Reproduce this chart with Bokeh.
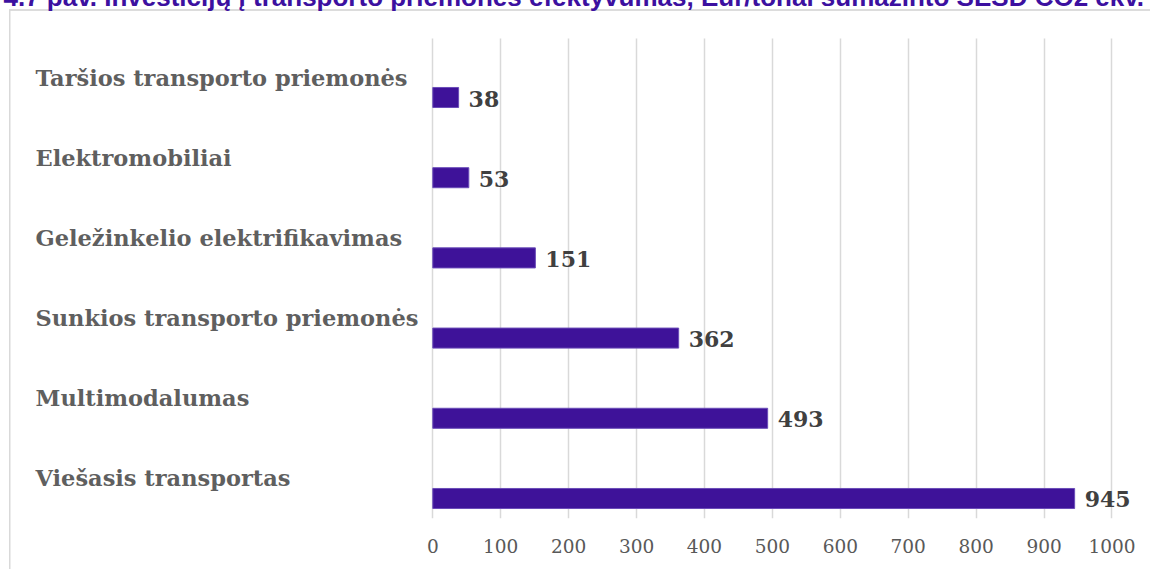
from bokeh.plotting import figure
from bokeh.models import ColumnDataSource, Range1d, FixedTicker, Label
from bokeh.core.properties import value
from bokeh.embed import file_html
from bokeh.resources import INLINE

# ---- data ----
categories = [
    "Taršios transporto priemonės",
    "Elektromobiliai",
    "Geležinkelio elektrifikavimas",
    "Sunkios transporto priemonės",
    "Multimodalumas",
    "Viešasis transportas",
]
values = [38, 53, 151, 362, 493, 945]
tick_values = [0, 100, 200, 300, 400, 500, 600, 700, 800, 900, 1000]
title_text = "4.7 pav. Investicijų į transporto priemones efektyvumas, Eur/tonai sumažinto ŠESD CO2 ekv."

pos = list(range(len(categories)))
src = ColumnDataSource(dict(
    pos=pos,
    cat=categories,
    val=values,
    lbl=[str(v) for v in values],
))

# layout constants
GRID_TOP, GRID_BOTTOM = -0.7357, 5.2494

W, H = 1150, 585
p = figure(
    width=W, height=H,
    output_backend="svg", toolbar_location=None,
    x_range=Range1d(-636.5, 1056.7),
    y_range=Range1d(GRID_BOTTOM, -1.409),
    y_axis_location=None,
    min_border_left=0, min_border_right=0,
    min_border_top=0, min_border_bottom=51,
    outline_line_color=None,
    background_fill_color=None, border_fill_color=None,
)
# chart box (light grey frame, as in the source document)
p.styles = {
    "margin-left": "0px",
    "margin-top": "-16px",
    "background": ("linear-gradient(#d9d9d9,#d9d9d9) 9px 26px / 1.5px 700px no-repeat, "
                   "linear-gradient(#dcdcdc,#dcdcdc) 9px 25px / 1300px 2px no-repeat, "
                   "white"),
}

# vertical grid lines limited to the plot area
g = p.xgrid[0]
if "cross_bounds" in g.properties():
    g.ticker = FixedTicker(ticks=tick_values)
    g.cross_bounds = (GRID_TOP, GRID_BOTTOM)
    g.grid_line_color = "#d9d9d9"
    g.grid_line_width = 1.5
else:
    g.grid_line_color = None
    p.segment(x0=tick_values, x1=tick_values,
              y0=[GRID_TOP] * len(tick_values), y1=[GRID_BOTTOM] * len(tick_values),
              line_color="#d9d9d9", line_width=1.5, level="underlay")
p.ygrid.grid_line_color = None

# bars
p.hbar(y="pos", left=0, right="val", height=0.25, source=src,
       fill_color="#3e1299", line_color="#6a4cb8", line_width=1)

# category labels above bars
p.text(x=-585, y="pos", text="cat", source=src, y_offset=-20,
       text_font=value("DejaVu Serif"), text_font_style="bold", text_font_size="22.5px",
       text_color="#5f5f5f", text_baseline="alphabetic", text_align="left")

# value labels
p.text(x="val", y="pos", text="lbl", source=src, x_offset=10, y_offset=1,
       text_font=value("DejaVu Serif"), text_font_style="bold", text_font_size="22px",
       text_color="#404040", text_baseline="middle", text_align="left")

# x axis
p.xaxis.ticker = FixedTicker(ticks=tick_values)
p.xaxis.axis_line_color = None
p.xaxis.major_tick_line_color = None
p.xaxis.minor_tick_line_color = None
p.xaxis.major_label_standoff = 14
p.xaxis.major_label_text_font = "DejaVu Serif"
p.xaxis.major_label_text_font_size = "18.5px"
p.xaxis.major_label_text_color = "#595959"

# title (partly cut off at the top, as in the source)
title = Label(x=3, y=12.5, x_units="canvas", y_units="canvas", text=title_text,
              text_font="Liberation Sans", text_font_style="bold",
              text_font_size="26px", text_color="#3c10a0",
              text_baseline="alphabetic", text_align="left")
p.add_layout(title)

open("out.html", "w").write(file_html(p, INLINE))
